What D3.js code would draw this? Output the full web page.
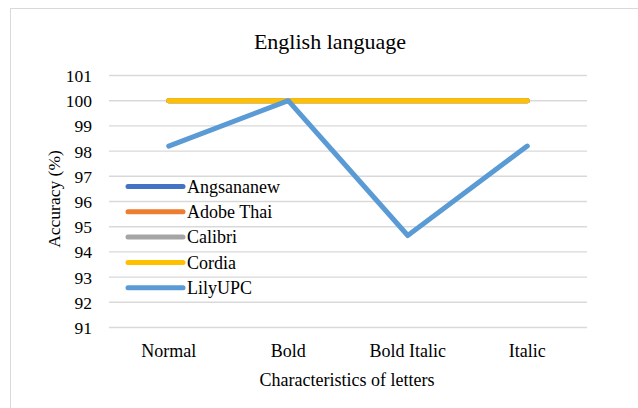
<!DOCTYPE html>
<html>
<head>
<meta charset="utf-8">
<script src="https://cdn.jsdelivr.net/npm/d3@7"></script>
<style>
  html, body { margin: 0; padding: 0; background: #fff; }
  svg { display: block; }
  text { font-family: "Liberation Serif", "Times New Roman", serif; fill: #000; }
</style>
</head>
<body>
<svg id="chart" width="638" height="408"></svg>
<script>
// Recognition accuracy per letter style, one series per font
const categories = ["Normal", "Bold", "Bold Italic", "Italic"];
const seriesNames = ["Angsananew", "Adobe Thai", "Calibri", "Cordia", "LilyUPC"];
const seriesColors = ["#4472C4", "#ED7D31", "#A5A5A5", "#FFC000", "#5B9BD5"];
const angsananew = [100, 100, 100, 100];
const adobeThai = [100, 100, 100, 100];
const calibri = [100, 100, 100, 100];
const cordia = [100, 100, 100, 100];
const lilyUPC = [98.2, 100, 94.65, 98.2];
const yTicks = [91, 92, 93, 94, 95, 96, 97, 98, 99, 100, 101];

const seriesValues = [angsananew, adobeThai, calibri, cordia, lilyUPC];

const SERIF = "'Liberation Serif', 'Times New Roman', serif";
const svg = d3.select("#chart");
const W = 638, H = 408;

// chart frame
svg.append("rect")
  .attr("x", 10.5).attr("y", 8.5)
  .attr("width", W + 20).attr("height", H + 20)
  .attr("fill", "#fff").attr("stroke", "#d9d9d9").attr("stroke-width", 1);

const plot = { left: 109, right: 587, top: 75.5, bottom: 327.5 };

const x = d3.scaleBand().domain(categories).range([plot.left, plot.right]);
const y = d3.scaleLinear().domain([91, 101]).range([plot.bottom, plot.top]);

// horizontal gridlines
svg.append("g")
  .selectAll("line")
  .data(yTicks)
  .join("line")
  .attr("x1", plot.left).attr("x2", plot.right)
  .attr("y1", d => y(d)).attr("y2", d => y(d))
  .attr("stroke", "#d9d9d9").attr("stroke-width", 1.4);

// y axis labels
const yAxis = d3.axisLeft(y).tickValues(yTicks).tickSize(0).tickPadding(0);
const gy = svg.append("g").attr("transform", "translate(92,0)").call(yAxis);
gy.select(".domain").remove();
gy.selectAll("text")
  .style("font-family", SERIF).style("font-size", "17.5px").attr("fill", "#000")
  .attr("dy", "0.34em");

// x axis labels
const xAxis = d3.axisBottom(x).tickSize(0).tickPadding(0);
const gx = svg.append("g").attr("transform", `translate(0,${plot.bottom})`).call(xAxis);
gx.select(".domain").remove();
gx.selectAll("text")
  .style("font-family", SERIF).style("font-size", "18px").attr("fill", "#000")
  .attr("y", 29.5).attr("dy", null);

// series lines
const line = d3.line()
  .x((d, i) => x(categories[i]) + x.bandwidth() / 2)
  .y(d => y(d));

svg.append("g")
  .selectAll("path")
  .data(seriesValues)
  .join("path")
  .attr("d", d => line(d))
  .attr("fill", "none")
  .attr("stroke", (d, i) => seriesColors[i])
  .attr("stroke-width", 5)
  .attr("stroke-linecap", "round")
  .attr("stroke-linejoin", "round");

// legend
const legend = svg.append("g");
const items = legend.selectAll("g")
  .data(seriesNames)
  .join("g")
  .attr("transform", (d, i) => `translate(128,${186.5 + i * 25.3})`);
items.append("line")
  .attr("x1", 0).attr("x2", 55)
  .attr("stroke", (d, i) => seriesColors[i])
  .attr("stroke-width", 5)
  .attr("stroke-linecap", "round");
items.append("text")
  .attr("x", 59).attr("y", 0).attr("dy", "0.34em")
  .style("font-family", SERIF).style("font-size", "18px")
  .text(d => d);

// titles
svg.append("text")
  .attr("x", 330).attr("y", 49)
  .attr("text-anchor", "middle")
  .style("font-family", SERIF).style("font-size", "22px")
  .text("English language");

svg.append("text")
  .attr("x", 347).attr("y", 386)
  .attr("text-anchor", "middle")
  .style("font-family", SERIF).style("font-size", "18px")
  .text("Characteristics of letters");

svg.append("text")
  .attr("transform", "translate(60,199) rotate(-90)")
  .attr("text-anchor", "middle")
  .style("font-family", SERIF).style("font-size", "17.5px")
  .text("Accuracy (%)");
</script>
</body>
</html>
